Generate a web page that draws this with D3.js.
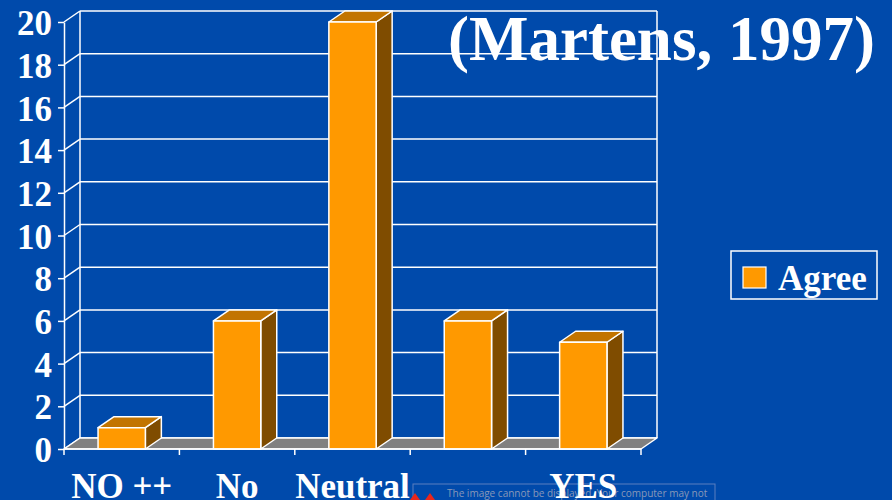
<!DOCTYPE html>
<html>
<head>
<meta charset="utf-8">
<script src="https://cdn.jsdelivr.net/npm/d3@7/dist/d3.min.js"></script>
<style>
  html, body { margin: 0; padding: 0; background: #004aab; }
  svg { display: block; }
</style>
</head>
<body>
<script>
// Survey responses (Martens, 1997)
const categories = ["NO ++", "No", "Neutral", "Yes+", "YES"];
const tickLabels = ["NO ++", "No", "Neutral", "", "YES"];
const agree = [1, 6, 20, 6, 5];
const yTicks = [0, 2, 4, 6, 8, 10, 12, 14, 16, 18, 20];
const seriesName = "Agree";
const title = "(Martens, 1997)";

const W = 892, H = 500;
const BG = "#004aab";
const FRONT = "#ff9900", TOP = "#c27400", SIDE = "#7f4c00", FLOOR = "#808080";
const SERIF = "'Liberation Serif', 'Times New Roman', serif";

// depth offset of the 3D box
const DX = 16, DY = -11;

const svg = d3.select("body").append("svg")
  .attr("width", W).attr("height", H);

svg.append("rect").attr("width", W).attr("height", H).attr("fill", BG);

const x = d3.scaleBand().domain(categories).range([64, 641]).padding(0);
const y = d3.scaleLinear().domain([0, 20]).range([449, 22]);

const xL = x.range()[0], xR = x.range()[1];
const y0 = y(0), yMax = y(20);

const chart = svg.append("g");

// back wall: gridlines and frame
const wall = chart.append("g").attr("stroke", "#ffffff").attr("stroke-width", 1.5).attr("fill", "none");
yTicks.forEach(t => {
  wall.append("line")
    .attr("x1", xL + DX).attr("x2", xR + DX)
    .attr("y1", y(t) + DY).attr("y2", y(t) + DY);
  // side wall diagonal from front axis to back wall
  wall.append("line")
    .attr("x1", xL).attr("y1", y(t))
    .attr("x2", xL + DX).attr("y2", y(t) + DY);
});
wall.append("line").attr("x1", xL + DX).attr("x2", xL + DX).attr("y1", yMax + DY).attr("y2", y0 + DY);
wall.append("line").attr("x1", xR + DX).attr("x2", xR + DX).attr("y1", yMax + DY).attr("y2", y0 + DY);

// floor
chart.append("path")
  .attr("d", `M${xL},${y0}L${xL + DX},${y0 + DY}L${xR + DX},${y0 + DY}L${xR},${y0}Z`)
  .attr("fill", FLOOR).attr("stroke", "#ffffff").attr("stroke-width", 1.5)
  .attr("stroke-linejoin", "round");

// 3D bars
const bw = x.bandwidth() * 0.41;
const bars = chart.append("g").attr("stroke", "#ffffff").attr("stroke-width", 1.5).attr("stroke-linejoin", "round");
categories.forEach((c, i) => {
  const v = agree[i];
  const x0 = x(c) + (x.bandwidth() - bw) / 2, x1 = x0 + bw;
  const yt = y(v);
  const g = bars.append("g");
  g.append("path")
    .attr("d", `M${x1},${yt}L${x1 + DX},${yt + DY}L${x1 + DX},${y0 + DY}L${x1},${y0}Z`)
    .attr("fill", SIDE);
  g.append("path")
    .attr("d", `M${x0},${yt}L${x0 + DX},${yt + DY}L${x1 + DX},${yt + DY}L${x1},${yt}Z`)
    .attr("fill", TOP);
  g.append("rect")
    .attr("x", x0).attr("y", yt).attr("width", bw).attr("height", y0 - yt)
    .attr("fill", FRONT);
});

// value axis
const yAxis = d3.axisLeft(y).tickValues(yTicks).tickSize(6).tickSizeOuter(0).tickPadding(6).tickFormat(d3.format("d"));
const ya = chart.append("g").attr("transform", `translate(${xL},0)`).call(yAxis);
ya.selectAll("path, line").attr("stroke", "#ffffff").attr("stroke-width", 1.5);
ya.selectAll("text")
  .attr("fill", "#ffffff")
  .attr("font-family", SERIF).attr("font-weight", "bold").attr("font-size", 35)
  .attr("dy", "0.36em");

// category axis: front edge with boundary ticks
const xa = chart.append("g").attr("stroke", "#ffffff").attr("stroke-width", 1.5);
xa.append("line").attr("x1", xL).attr("x2", xR).attr("y1", y0).attr("y2", y0);
const bounds = categories.map(c => x(c)).concat([xR]);
bounds.forEach(b => {
  xa.append("line").attr("x1", b).attr("x2", b).attr("y1", y0).attr("y2", y0 + 6);
});

// legend
const lg = svg.append("g");
lg.append("rect").attr("x", 731).attr("y", 251).attr("width", 146).attr("height", 48)
  .attr("fill", "none").attr("stroke", "#ffffff").attr("stroke-width", 1.5);
lg.append("rect").attr("x", 743).attr("y", 267).attr("width", 23).attr("height", 21)
  .attr("fill", FRONT).attr("stroke", "#ffffff").attr("stroke-width", 1.2);
lg.append("text").attr("x", 778).attr("y", 290)
  .attr("fill", "#ffffff").attr("font-family", SERIF).attr("font-weight", "bold").attr("font-size", 35)
  .text(seriesName);

// title
svg.append("text").attr("x", 448).attr("y", 60)
  .attr("fill", "#ffffff").attr("font-family", SERIF).attr("font-weight", "bold").attr("font-size", 63)
  .text(title);

// missing-picture placeholder at the bottom
const ph = svg.append("g");
ph.append("rect").attr("x", 413).attr("y", 484).attr("width", 302).attr("height", 30)
  .attr("fill", "none").attr("stroke", "#5b7fbf").attr("stroke-width", 1);
ph.append("path").attr("d", "M410,500L415,493L420,500ZM425,500L430,493L435,500Z").attr("fill", "#e8261c");
ph.append("text").attr("x", 447).attr("y", 497)
  .attr("fill", "#8898b8").attr("font-family", "'Open Sans', 'DejaVu Sans', sans-serif").attr("font-size", 10)
  .text("The image cannot be displayed. Your computer may not");

// category labels
svg.append("g").selectAll("text").data(categories).join("text")
  .attr("x", c => x(c) + x.bandwidth() / 2)
  .attr("y", 498)
  .attr("text-anchor", "middle")
  .attr("fill", "#ffffff").attr("font-family", SERIF).attr("font-weight", "bold").attr("font-size", 35)
  .text((c, i) => tickLabels[i]);
</script>
</body>
</html>
